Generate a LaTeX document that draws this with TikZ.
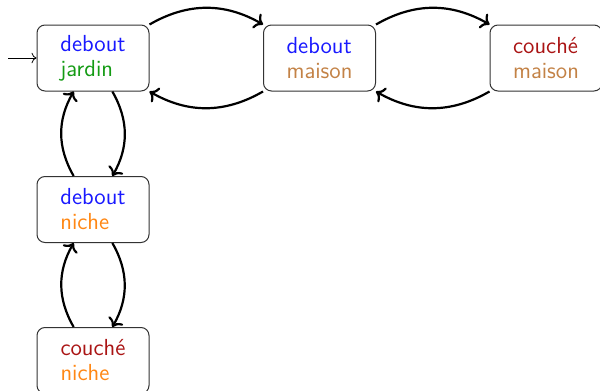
\documentclass[tikz,border=0pt]{standalone}
\usetikzlibrary{arrows.meta}
\definecolor{cblue}{RGB}{25,25,255}
\definecolor{cgreen}{RGB}{20,155,20}
\definecolor{cbrown}{RGB}{195,130,70}
\definecolor{corange}{RGB}{255,135,20}
\definecolor{cred}{RGB}{170,20,20}
\begin{document}
\begin{tikzpicture}[x=0.5pt,y=0.5pt,
  state/.style={draw=black!80,line width=0.5pt,rounded corners=4pt,
    minimum width=56pt,minimum height=33pt,inner sep=0pt,align=left,
    font=\sffamily\fontsize{11.6}{12.5}\selectfont},
  arr/.style={->,line width=1.1pt},
  init/.style={->,line width=0.4pt}]
\useasboundingbox (0,0) rectangle (600,-391);
\node[state] (n1) at (93,-58) {\textcolor{cblue}{debout}\\\textcolor{cgreen}{jardin}};
\node[state] (n2) at (319.5,-58) {\textcolor{cblue}{debout}\\\textcolor{cbrown}{maison}};
\node[state] (n3) at (546,-58) {\textcolor{cred}{couché}\\\textcolor{cbrown}{maison}};
\node[state] (n4) at (93,-209.5) {\textcolor{cblue}{debout}\\\textcolor{corange}{niche}};
\node[state] (n5) at (93,-360.5) {\textcolor{cred}{couché}\\\textcolor{corange}{niche}};
\coordinate (start) at (8,-58);
\draw[init] (start) -- (n1.west);
\draw[arr] (n1.north east) to[bend left=30] (n2.north west);
\draw[arr] (n2.south west) to[bend left=30] (n1.south east);
\draw[arr] (n2.north east) to[bend left=30] (n3.north west);
\draw[arr] (n3.south west) to[bend left=30] (n2.south east);
\draw[arr] (n1.-60) to[bend left=30] (n4.60);
\draw[arr] (n4.120) to[bend left=30] (n1.-120);
\draw[arr] (n4.-60) to[bend left=30] (n5.60);
\draw[arr] (n5.120) to[bend left=30] (n4.-120);
\end{tikzpicture}
\end{document}
